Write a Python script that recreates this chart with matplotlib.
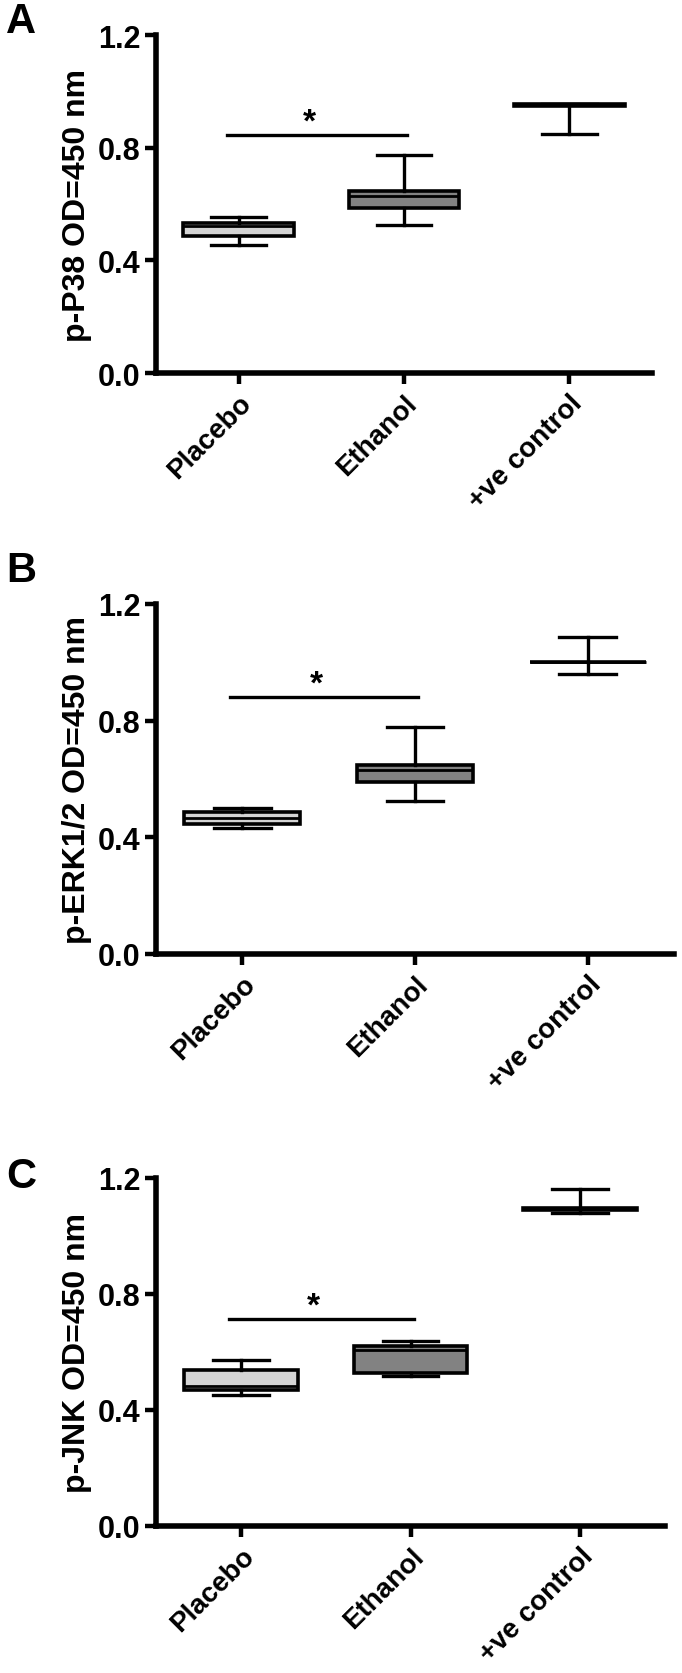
import matplotlib
matplotlib.use("Agg")
import matplotlib.pyplot as plt

plt.rcParams['font.family'] = ['Liberation Sans', 'DejaVu Sans']
plt.rcParams['font.weight'] = 'bold'

groups = ["Placebo", "Ethanol", "+ve control"]
box_colors = ["#d4d4d4", "#828282", "#ffffff"]

# p-P38 (panel A)
p38_whislo = [0.453, 0.524, 0.850]
p38_q1 = [0.486, 0.585, 0.948]
p38_med = [0.522, 0.628, 0.952]
p38_q3 = [0.534, 0.646, 0.955]
p38_whishi = [0.555, 0.774, 0.955]

# p-ERK1/2 (panel B)
erk_whislo = [0.431, 0.526, 0.960]
erk_q1 = [0.446, 0.589, 1.000]
erk_med = [0.466, 0.631, 1.000]
erk_q3 = [0.488, 0.648, 1.000]
erk_whishi = [0.502, 0.777, 1.088]

# p-JNK (panel C)
jnk_whislo = [0.453, 0.518, 1.081]
jnk_q1 = [0.469, 0.527, 1.090]
jnk_med = [0.484, 0.608, 1.093]
jnk_q3 = [0.539, 0.622, 1.095]
jnk_whishi = [0.572, 0.638, 1.163]

sig_levels = [0.845, 0.880, 0.714]
ylabels = ["p-P38 OD=450 nm", "p-ERK1/2 OD=450 nm", "p-JNK OD=450 nm"]
panel_letters = ["A", "B", "C"]
yticks = [0.0, 0.4, 0.8, 1.2]

W, H = 682, 1674
# axes rectangles in pixels: left, right, top, bottom
rects = [(156, 652, 36, 374), (156, 674, 605, 955), (156, 665, 1179, 1527)]
letter_pos = [(21, 22), (21, 571), (21, 1177)]

fig = plt.figure(figsize=(W / 100, H / 100), dpi=100)

data = [
    (p38_whislo, p38_q1, p38_med, p38_q3, p38_whishi),
    (erk_whislo, erk_q1, erk_med, erk_q3, erk_whishi),
    (jnk_whislo, jnk_q1, jnk_med, jnk_q3, jnk_whishi),
]

for i, (lo, q1, med, q3, hi) in enumerate(data):
    l, r, t, b = rects[i]
    ax = fig.add_axes([l / W, 1 - b / H, (r - l) / W, (b - t) / H])

    stats = []
    for k in range(len(groups)):
        stats.append({'whislo': lo[k], 'q1': q1[k], 'med': med[k],
                      'q3': q3[k], 'whishi': hi[k], 'fliers': []})

    bp = ax.bxp(stats, positions=range(len(groups)), widths=0.67,
                patch_artist=True, showfliers=False,
                boxprops=dict(linewidth=2.6, edgecolor='black'),
                medianprops=dict(color='black', linewidth=2.0),
                whiskerprops=dict(color='black', linewidth=2.4),
                capprops=dict(color='black', linewidth=2.4),
                capwidths=0.33)
    for patch, c in zip(bp['boxes'], box_colors):
        patch.set_facecolor(c)

    # significance bar
    ax.plot([-0.07, 1.02], [sig_levels[i], sig_levels[i]], color='black', lw=2.4)
    ax.text(0.43, sig_levels[i] + 0.015, "*", ha='center', va='baseline',
            fontsize=24, fontweight='bold')

    ax.set_xlim(-0.5, 2.5)
    ax.set_ylim(0, 1.2)
    ax.set_yticks(yticks)
    ax.set_yticklabels(["%.1f" % v for v in yticks], fontsize=22, fontweight='bold')
    ax.set_xticks(range(len(groups)))
    ax.set_xticklabels(groups, rotation=45, ha='right', rotation_mode='anchor',
                       fontsize=20, fontweight='bold')
    ax.set_ylabel(ylabels[i], fontsize=23, fontweight='bold', labelpad=4)

    for s in ['top', 'right']:
        ax.spines[s].set_visible(False)
    for s in ['left', 'bottom']:
        ax.spines[s].set_linewidth(4.0)
    ax.tick_params(axis='y', direction='out', length=8, width=3.2, pad=3)
    ax.tick_params(axis='x', direction='out', length=8, width=3.2, pad=4)

    fig.text(letter_pos[i][0] / W, 1 - letter_pos[i][1] / H, panel_letters[i],
             fontsize=30, fontweight='bold', ha='center', va='center')

fig.savefig("out.png", dpi=100)
